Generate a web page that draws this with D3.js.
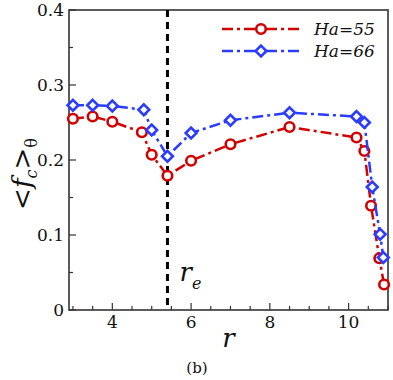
<!DOCTYPE html>
<html><head><meta charset="utf-8">
<script src="https://cdn.jsdelivr.net/npm/d3@7"></script>
<style>body{margin:0;background:#fff}svg{display:block}</style>
</head><body>
<svg id="c" width="393" height="380"></svg>
<script>
const rHa55 = [3.0, 3.5, 4.0, 4.75, 5.0, 5.4, 6.0, 7.0, 8.5, 10.2, 10.4, 10.57, 10.78, 10.9];
const fHa55 = [0.255, 0.258, 0.251, 0.237, 0.207, 0.179, 0.199, 0.221, 0.244, 0.230, 0.212, 0.139, 0.069, 0.034];
const rHa66 = [3.0, 3.5, 4.0, 4.8, 5.0, 5.4, 6.0, 7.0, 8.5, 10.2, 10.4, 10.6, 10.8, 10.88];
const fHa66 = [0.273, 0.273, 0.272, 0.267, 0.240, 0.205, 0.236, 0.253, 0.263, 0.258, 0.250, 0.164, 0.101, 0.070];
const xTicks = [4, 6, 8, 10];
const yTicks = [0, 0.1, 0.2, 0.3, 0.4];
const rE = 5.4;
const seriesNames = ["Ha=55", "Ha=66"];

const svg = d3.select("#c");
const L = 69, R = 388, T = 10, B = 310;
const x = d3.scaleLinear().domain([2.9, 11]).range([L, R]);
const y = d3.scaleLinear().domain([0, 0.4]).range([B, T]);
const serif = "'DejaVu Serif','Liberation Serif',serif";
const axisCol = "#333";

// frame
svg.append("rect").attr("x", L).attr("y", T).attr("width", R - L).attr("height", B - T)
  .attr("fill", "none").attr("stroke", axisCol).attr("stroke-width", 1.6);

// x axis ticks (inward)
const xMinor = d3.range(3, 11.01, 0.5);
svg.append("g").selectAll("line").data(xMinor).join("line")
  .attr("x1", d => x(d)).attr("x2", d => x(d))
  .attr("y1", B).attr("y2", d => B - (xTicks.includes(d) ? 7 : 4))
  .attr("stroke", axisCol).attr("stroke-width", 1.2);
svg.append("g").selectAll("text").data(xTicks).join("text")
  .attr("x", d => x(d)).attr("y", B + 18).attr("text-anchor", "middle")
  .attr("font-family", serif).attr("font-size", 17).attr("fill", "#111").text(d => d);

// y axis ticks
const yMinor = d3.range(0, 0.401, 0.05);
svg.append("g").selectAll("line").data(yMinor).join("line")
  .attr("x1", L).attr("x2", (d, i) => L + (i % 2 === 0 ? 7 : 4))
  .attr("y1", d => y(d)).attr("y2", d => y(d))
  .attr("stroke", axisCol).attr("stroke-width", 1.2);
svg.append("g").selectAll("text").data(yTicks).join("text")
  .attr("x", L - 5).attr("y", d => y(d) + 6).attr("text-anchor", "end")
  .attr("font-family", serif).attr("font-size", 17).attr("fill", "#111")
  .text(d => d === 0 ? "0" : d.toFixed(1));

// r_e dashed line
svg.append("line").attr("x1", x(rE)).attr("x2", x(rE)).attr("y1", T).attr("y2", B)
  .attr("stroke", "#000").attr("stroke-width", 3).attr("stroke-dasharray", "7,5");
const reT = svg.append("text").attr("x", x(rE) + 12).attr("y", 281)
  .attr("font-family", serif).attr("font-style", "italic").attr("font-size", 26).attr("fill", "#111");
reT.append("tspan").text("r");
reT.append("tspan").attr("font-size", 16).attr("dy", 8).attr("dx", 0).text("e");

// series
const cols = ["#d40000", "#2a3cff"];
const dash = "11,4,3,4";
const line = d3.line().x(d => x(d[0])).y(d => y(d[1]));
const data55 = rHa55.map((r, i) => [r, fHa55[i]]);
const data66 = rHa66.map((r, i) => [r, fHa66[i]]);
const symFor = shape => d3.symbol().type(shape === "c" ? d3.symbolCircle : d3.symbolDiamond2)
    .size(shape === "c" ? 72 : 75);

function drawSeries(data, col, shape) {
  svg.append("path").datum(data).attr("d", line).attr("fill", "none")
    .attr("stroke", col).attr("stroke-width", 2.5).attr("stroke-dasharray", dash);
  svg.append("g").selectAll("path").data(data).join("path")
    .attr("transform", d => `translate(${x(d[0])},${y(d[1])})`)
    .attr("d", symFor(shape)).attr("fill", "#fff").attr("stroke", col).attr("stroke-width", 2.6);
}
drawSeries(data55, cols[0], "c");
drawSeries(data66, cols[1], "d");

// legend
const leg = [[cols[0], "c", 29], [cols[1], "d", 51]];
leg.forEach(([col, shape, ly], i) => {
  svg.append("line").attr("x1", 222).attr("x2", 299).attr("y1", ly).attr("y2", ly)
    .attr("stroke", col).attr("stroke-width", 2.5).attr("stroke-dasharray", dash);
  svg.append("path").attr("transform", `translate(261,${ly})`).attr("d", symFor(shape))
    .attr("fill", "#fff").attr("stroke", col).attr("stroke-width", 2.6);
  svg.append("text").attr("x", 314).attr("y", ly + 6)
    .attr("font-family", serif).attr("font-style", "italic").attr("font-size", 17).attr("fill", "#111")
    .text(seriesNames[i]);
});

// axis titles
svg.append("text").attr("x", x(6.95)).attr("y", 347).attr("text-anchor", "middle")
  .attr("font-family", serif).attr("font-style", "italic").attr("font-size", 26).attr("fill", "#111").text("r");
const yl = svg.append("text").attr("transform", "translate(31,174) rotate(-90)").attr("text-anchor", "middle")
  .attr("font-family", serif).attr("font-size", 26).attr("fill", "#111");
yl.append("tspan").text("<");
yl.append("tspan").attr("font-style", "italic").text("f");
yl.append("tspan").attr("font-style", "italic").attr("font-size", 16).attr("dy", 6).text("c");
yl.append("tspan").attr("dy", -6).text(">");
yl.append("tspan").attr("font-size", 16).attr("dy", 6).text("θ");

svg.append("text").attr("x", 197).attr("y", 373).attr("text-anchor", "middle")
  .attr("font-family", serif).attr("font-size", 15).attr("fill", "#111").text("(b)");
</script>
</body></html>
